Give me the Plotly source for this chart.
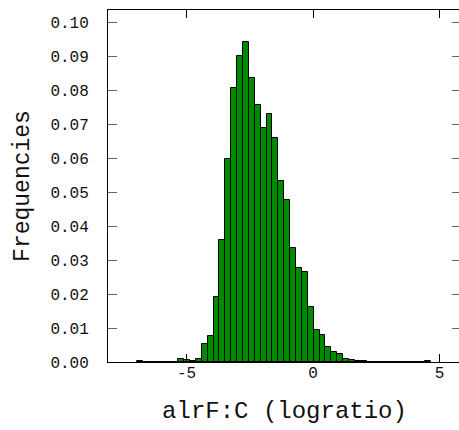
import plotly.graph_objects as go

# Histogram data
bin_start = -6.955
bin_width = 0.2326
freqs = [0.0002, 0.0, 0.0, 0.0001, 0.0001, 0.0, 0.0001, 0.0009, 0.0006, 0.0004, 0.0010,
         0.0053, 0.0077, 0.0191, 0.0361, 0.0598, 0.0808, 0.0902, 0.0943, 0.0837, 0.0757,
         0.0691, 0.0730, 0.0659, 0.0533, 0.0476, 0.0335, 0.0278, 0.0265, 0.0162, 0.0094,
         0.0080, 0.0044, 0.0029, 0.0023, 0.0009, 0.0005, 0.0003, 0.0002,
         0.0, 0.0, 0.0, 0.0, 0.0, 0.0, 0.0, 0.0, 0.0, 0.0, 0.0002]
x_ticks = [-5, 0, 5]
x_title = "alrF:C (logratio)"
y_title = "Frequencies"

centers = [bin_start + bin_width * (i + 0.5) for i in range(len(freqs))]

FONT = "Liberation Mono, Courier New, monospace"

fig = go.Figure(go.Bar(
    x=centers, y=freqs, width=bin_width,
    marker=dict(color="#008a00", line=dict(color="black", width=1)),
))

W = 463
fig.update_layout(
    width=W, height=430,
    margin=dict(l=108, r=W - 461, t=10, b=67.5),
    plot_bgcolor="white", paper_bgcolor="white",
    showlegend=False, bargap=0,
    font=dict(family=FONT, color="#111111"),
)
fig.update_xaxes(
    range=[-8.106, 5.85], tickvals=x_ticks, ticktext=[str(v) for v in x_ticks],
    ticks="inside", ticklen=8, tickcolor="black", tickwidth=1,
    showline=True, linecolor="black", linewidth=1, mirror="ticks",
    showgrid=False, zeroline=False,
    tickfont=dict(size=16, family=FONT), ticklabelstandoff=-4,
    title=dict(text=x_title, font=dict(size=24, family=FONT), standoff=18),
)
fig.update_yaxes(
    range=[0, 0.10374], dtick=0.01, tick0=0, tickformat=".2f",
    ticks="inside", ticklen=9, tickcolor="#666666", tickwidth=1,
    showline=True, linecolor="black", linewidth=1, mirror="ticks",
    showgrid=False, zeroline=False,
    tickfont=dict(size=16, family=FONT), ticklabelstandoff=15,
    title=dict(text=y_title, font=dict(size=23, family=FONT), standoff=14),
)

fig.write_html("out.html", config={"displayModeBar": False},
               post_script="document.body.style.overflow='hidden';document.documentElement.style.overflow='hidden';")
